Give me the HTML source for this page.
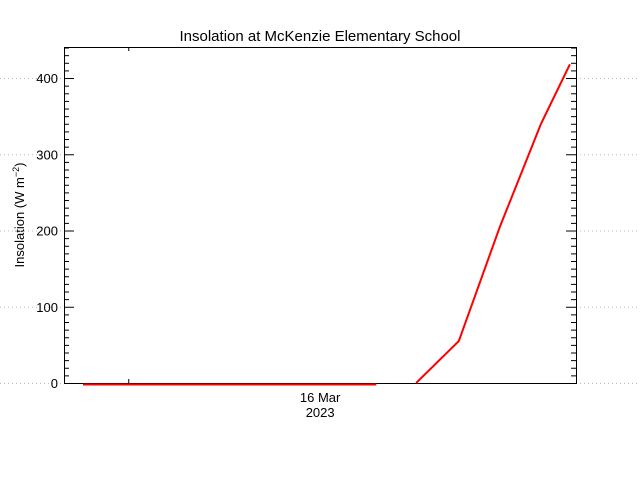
<!DOCTYPE html>
<html><head><meta charset="utf-8"><style>
body{margin:0;background:#fff}
svg{display:block;font-family:"Liberation Sans",sans-serif}
</style></head><body>
<svg id="chart" width="640" height="480" viewBox="0 0 640 480" xmlns="http://www.w3.org/2000/svg">
<text x="320" y="41" text-anchor="middle" font-size="15">Insolation at McKenzie Elementary School</text>
<text transform="translate(24,215) rotate(-90)" text-anchor="middle" font-size="13">Insolation (W m<tspan dy="-5" font-size="9">−2</tspan><tspan dy="5">)</tspan></text>
<g id="grid"></g>
<g id="axes"></g>
<g id="series"></g>
</svg>
<script>
const hours = [0,1,2,3,4,5,6,7,null,7.95,8.97,9.95,10.93,11.62];
const values = [-2,-2,-2,-2,-2,-2,-2,-2,null,0,55,205,340,418];
const yTicks = [0,100,200,300,400];
const xTickHours = [5.66];
const xTickLabels = [["16 Mar","2023"]];
const minorTickHours = [1.08];

const L=64,R=576,T=47,B=383;
const yMin=0,yMax=440.7;
const x0=83,xStep=41.9;
function X(h){return x0+h*xStep;}
function Y(v){return B-(v-yMin)/(yMax-yMin)*(B-T);}
const NS="http://www.w3.org/2000/svg";
function mk(tag,attrs,parent){const e=document.createElementNS(NS,tag);for(const k in attrs)e.setAttribute(k,attrs[k]);parent.appendChild(e);return e;}
const grid=document.getElementById('grid'),axes=document.getElementById('axes'),series=document.getElementById('series');

yTicks.forEach(v=>{
  [[0,L],[R,640]].forEach(([a,b])=>{
    const g=mk('line',{x1:a,x2:b,y1:Y(v)+0.5,y2:Y(v)+0.5,stroke:'#bbb','stroke-dasharray':'1,3'},grid);
    
    
  });
});
const box=mk('rect',{x:L+0.5,y:T+0.5,width:R-L,height:B-T,fill:'none',stroke:'#000'},axes);


for(let v=0;v<=440;v+=10){
  const len=(v%100===0)?10:5;
  [[L,L+len],[R,R-len]].forEach(([a,b])=>{
    const t=mk('line',{x1:a,x2:b,y1:Y(v)+0.5,y2:Y(v)+0.5,stroke:'#000'},axes);
    
    
  });
}
yTicks.forEach(v=>{
  const t=mk('text',{x:L-6,y:Y(v)+5,'text-anchor':'end','font-size':'13'},axes);
  t.textContent=v;
  
  
});
minorTickHours.forEach(h=>{
  [[B,B-4],[T,T+4]].forEach(([a,b])=>{
    const t=mk('line',{x1:X(h)+0.5,x2:X(h)+0.5,y1:a,y2:b,stroke:'#000'},axes);
    
    
  });
});
xTickHours.forEach((h,i)=>{
  xTickLabels[i].forEach((s,j)=>{
    const t=mk('text',{x:X(h),y:402+j*15,'text-anchor':'middle','font-size':'13'},axes);
    t.textContent=s;
    
    
  });
});
let seg=[];
function flush(){
  if(seg.length>1){
    const p=mk('polyline',{points:seg.join(' '),fill:'none',stroke:'#f00','stroke-width':'2'},series);
    
    
  }
  seg=[];
}
hours.forEach((h,i)=>{
  if(h===null||values[i]===null){flush();return;}
  seg.push(X(h).toFixed(1)+','+Y(values[i]).toFixed(1));
});
flush();
</script>
</body></html>
